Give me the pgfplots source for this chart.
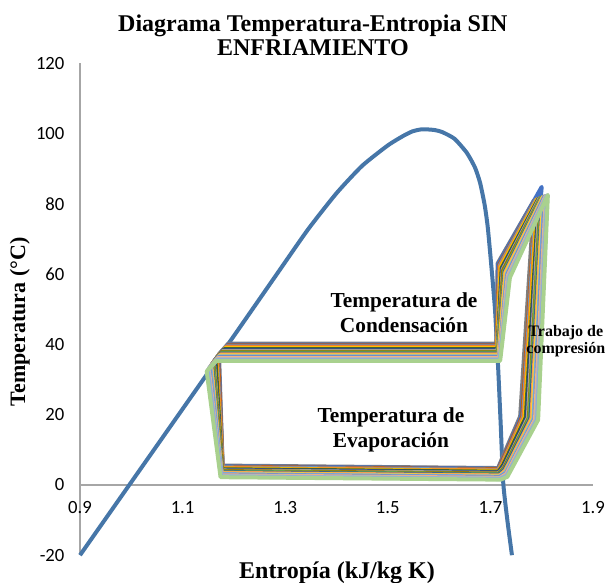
\documentclass[border=0pt]{standalone}
\usepackage{pgfplots}
\pgfplotsset{compat=1.18}
\usepackage{fontspec}
\setmainfont{Liberation Serif}
\newfontfamily\calibri{Carlito}
\definecolor{dome}{HTML}{4676A8}
\definecolor{axgray}{HTML}{A6A6A6}
\definecolor{c0}{HTML}{7F7F7F}
\definecolor{c1}{HTML}{4472C4}
\definecolor{c2}{HTML}{C55A11}
\definecolor{c3}{HTML}{5B9BD5}
\definecolor{c4}{HTML}{ED7D31}
\definecolor{c5}{HTML}{FFC000}
\definecolor{c6}{HTML}{43682B}
\definecolor{c7}{HTML}{264478}
\definecolor{c8}{HTML}{A5A5A5}
\definecolor{c9}{HTML}{997300}
\definecolor{c10}{HTML}{70AD47}
\definecolor{c11}{HTML}{255E91}
\definecolor{c12}{HTML}{F1975A}
\definecolor{c13}{HTML}{FFCD33}
\definecolor{c14}{HTML}{7CAFDD}
\definecolor{c15}{HTML}{698ED0}
\definecolor{c16}{HTML}{F4B183}
\definecolor{c17}{HTML}{B7B7B7}
\definecolor{c18}{HTML}{8FAADC}
\definecolor{c19}{HTML}{A9D18E}
\pgfplotsset{cyc/.style={line width=3pt, line join=round, line cap=round, mark=none}}
\begin{document}
\begin{tikzpicture}
\begin{axis}[
  scale only axis, width=384.75pt, height=369pt,
  xmin=0.9, xmax=1.9, ymin=-20, ymax=120,
  axis x line*=middle, axis y line*=left,
  axis line style={axgray, line width=1pt},
  hide obscured x ticks=false, hide obscured y ticks=false,
  xtick={0.9,1.1,1.3,1.5,1.7,1.9},
  ytick={-20,0,20,40,60,80,100,120},
  major tick length=0pt,
  /pgf/number format/assume math mode=true,
  /pgf/number format/fixed,
  every tick label/.append style={font=\calibri\fontsize{14}{14}\selectfont, inner sep=0pt, text=black},
  xticklabel style={anchor=north, yshift=-12pt},
  yticklabel style={anchor=east, xshift=-11.5pt},
  clip=false,
]
% saturation dome
\addplot[dome, line width=3pt, line join=round, smooth, tension=0.35] coordinates {
(0.900,-20) (1.000,0.8) (1.100,21.6) (1.200,42.4) (1.280,59.2) (1.344,72.6) (1.400,83.0)
(1.450,90.8) (1.500,96.6) (1.530,99.3) (1.548,100.6) (1.567,101.2) (1.590,101.0)
(1.606,100.4) (1.630,98.5) (1.654,94.5) (1.670,90.3) (1.680,85.9) (1.689,79.5)
(1.695,73.1) (1.702,62.0) (1.709,49.8) (1.715,33.6) (1.720,17.5) (1.725,0.6)
(1.733,-10.0) (1.742,-20)};
% cycles
\addplot[cyc, c0] coordinates {(1.189,40.20) (1.171,37.20) (1.178,5.50) (1.715,4.80) (1.722,7.30) (1.758,19.50) (1.785,81.00) (1.714,63.00) (1.712,40.20) (1.189,40.20)};
\addplot[cyc, c1] coordinates {(1.188,39.94) (1.170,36.94) (1.178,5.33) (1.715,4.63) (1.723,7.04) (1.760,19.45) (1.800,84.80) (1.715,62.79) (1.712,39.94) (1.188,39.94)};
\addplot[cyc, c2] coordinates {(1.187,39.68) (1.169,36.68) (1.178,5.15) (1.715,4.45) (1.723,6.77) (1.762,19.39) (1.788,81.16) (1.717,62.58) (1.712,39.68) (1.187,39.68)};
\addplot[cyc, c3] coordinates {(1.185,39.43) (1.167,36.43) (1.178,4.98) (1.715,4.28) (1.724,6.51) (1.764,19.34) (1.789,81.24) (1.718,62.37) (1.713,39.43) (1.185,39.43)};
\addplot[cyc, c4] coordinates {(1.184,39.17) (1.166,36.17) (1.178,4.81) (1.716,4.11) (1.724,6.25) (1.765,19.29) (1.791,81.32) (1.719,62.16) (1.713,39.17) (1.184,39.17)};
\addplot[cyc, c5] coordinates {(1.183,38.91) (1.165,35.91) (1.177,4.63) (1.716,3.93) (1.725,5.98) (1.767,19.24) (1.792,81.39) (1.720,61.95) (1.713,38.91) (1.183,38.91)};
\addplot[cyc, c6] coordinates {(1.182,38.65) (1.164,35.65) (1.177,4.46) (1.716,3.76) (1.725,5.72) (1.769,19.18) (1.794,81.47) (1.722,61.74) (1.714,38.65) (1.182,38.65)};
\addplot[cyc, c7] coordinates {(1.180,38.39) (1.162,35.39) (1.177,4.28) (1.716,3.58) (1.726,5.46) (1.771,19.13) (1.795,81.55) (1.723,61.53) (1.714,38.39) (1.180,38.39)};
\addplot[cyc, c8] coordinates {(1.179,38.14) (1.161,35.14) (1.177,4.11) (1.717,3.41) (1.727,5.19) (1.773,19.08) (1.796,81.63) (1.724,61.32) (1.714,38.14) (1.179,38.14)};
\addplot[cyc, c9] coordinates {(1.178,37.88) (1.160,34.88) (1.177,3.94) (1.717,3.24) (1.727,4.93) (1.775,19.03) (1.798,81.71) (1.725,61.11) (1.715,37.88) (1.178,37.88)};
\addplot[cyc, c10] coordinates {(1.177,37.62) (1.159,34.62) (1.176,3.76) (1.717,3.06) (1.728,4.67) (1.776,18.97) (1.799,81.79) (1.727,60.89) (1.715,37.62) (1.177,37.62)};
\addplot[cyc, c11] coordinates {(1.175,37.36) (1.157,34.36) (1.176,3.59) (1.717,2.89) (1.728,4.41) (1.778,18.92) (1.801,81.87) (1.728,60.68) (1.716,37.36) (1.175,37.36)};
\addplot[cyc, c12] coordinates {(1.174,37.11) (1.156,34.11) (1.176,3.42) (1.718,2.72) (1.729,4.14) (1.780,18.87) (1.802,81.95) (1.729,60.47) (1.716,37.11) (1.174,37.11)};
\addplot[cyc, c13] coordinates {(1.173,36.85) (1.155,33.85) (1.176,3.24) (1.718,2.54) (1.730,3.88) (1.782,18.82) (1.803,82.03) (1.730,60.26) (1.716,36.85) (1.173,36.85)};
\addplot[cyc, c14] coordinates {(1.172,36.59) (1.154,33.59) (1.176,3.07) (1.718,2.37) (1.730,3.62) (1.784,18.76) (1.805,82.11) (1.732,60.05) (1.717,36.59) (1.172,36.59)};
\addplot[cyc, c15] coordinates {(1.170,36.33) (1.152,33.33) (1.175,2.89) (1.718,2.19) (1.731,3.35) (1.786,18.71) (1.806,82.18) (1.733,59.84) (1.717,36.33) (1.170,36.33)};
\addplot[cyc, c16] coordinates {(1.169,36.07) (1.151,33.07) (1.175,2.72) (1.719,2.02) (1.731,3.09) (1.787,18.66) (1.808,82.26) (1.734,59.63) (1.717,36.07) (1.169,36.07)};
\addplot[cyc, c17] coordinates {(1.168,35.82) (1.150,32.82) (1.175,2.55) (1.719,1.85) (1.732,2.83) (1.789,18.61) (1.809,82.34) (1.735,59.42) (1.718,35.82) (1.168,35.82)};
\addplot[cyc, c18] coordinates {(1.167,35.56) (1.149,32.56) (1.175,2.37) (1.719,1.67) (1.732,2.56) (1.791,18.55) (1.811,82.42) (1.737,59.21) (1.718,35.56) (1.167,35.56)};
\addplot[cyc, c19] coordinates {(1.165,35.30) (1.147,32.30) (1.174,2.20) (1.720,1.50) (1.733,2.30) (1.793,18.50) (1.812,82.50) (1.738,59.00) (1.719,35.30) (1.165,35.30)};
% texts
\node[font=\bfseries\fontsize{18}{18}\selectfont, align=center] at (axis cs:1.354,127.8) {Diagrama Temperatura-Entropia SIN\\ENFRIAMIENTO};
\node[font=\bfseries\fontsize{18}{18}\selectfont, anchor=base] at (axis cs:1.401,-26.5) {Entropía (kJ/kg K)};
\node[font=\bfseries\fontsize{16.5}{16.5}\selectfont, anchor=base, rotate=90] at (axis cs:0.7928,46.4) {Temperatura (°C)};
\node[font=\bfseries\fontsize{16}{16}\selectfont, anchor=base] at (axis cs:1.5316,50.36) {Temperatura de};
\node[font=\bfseries\fontsize{16}{16}\selectfont, anchor=base] at (axis cs:1.5316,43.24) {Condensación};
\node[font=\bfseries\fontsize{16}{16}\selectfont, anchor=base] at (axis cs:1.506,17.64) {Temperatura de};
\node[font=\bfseries\fontsize{16}{16}\selectfont, anchor=base] at (axis cs:1.506,10.53) {Evaporación};
\node[font=\bfseries\fontsize{12}{12}\selectfont, anchor=base] at (axis cs:1.847,42.1) {Trabajo de};
\node[font=\bfseries\fontsize{12}{12}\selectfont, anchor=base] at (axis cs:1.847,37.27) {compresión};
\coordinate (BL) at (axis cs:0.74405,-27.88);
\coordinate (TR) at (axis cs:1.92729,137.98);
\end{axis}
\pgfresetboundingbox
\path[use as bounding box] (BL) rectangle (TR);
\end{tikzpicture}
\end{document}
